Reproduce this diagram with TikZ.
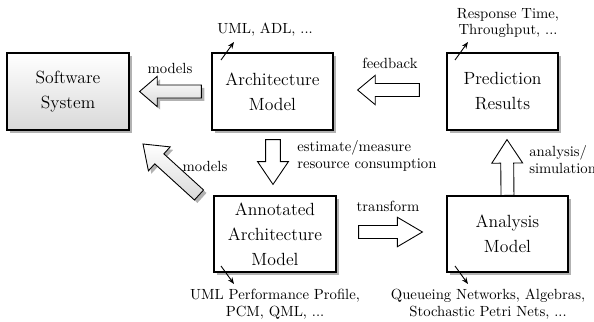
\documentclass[tikz,border=0pt]{standalone}
\usetikzlibrary{calc,shadows,arrows.meta}
\newcommand\fatarrow[6]{% #1 start, #2 end, #3 style, #4 shaft half width, #5 head half width, #6 head length
  \path (#1) coordinate (fa-s) (#2) coordinate (fa-e);
  \path ($(fa-e)!#6!(fa-s)$) coordinate (fa-h);
  \draw[#3] ($(fa-s)!#4!90:(fa-e)$) -- ($(fa-h)!#4!-90:(fa-s)$) -- ($(fa-h)!#5!-90:(fa-s)$)
    -- (fa-e) -- ($(fa-h)!#5!90:(fa-s)$) -- ($(fa-h)!#4!90:(fa-s)$) -- ($(fa-s)!#4!-90:(fa-e)$) -- cycle;
}
\tikzset{
  box/.style={draw, line width=0.8pt, fill=white, inner sep=0pt, align=center,
    font=\fontsize{12}{17}\selectfont,
    drop shadow={shadow xshift=2pt, shadow yshift=-2pt, fill=black, opacity=0.3}},
  lbl/.style={inner sep=0pt, font=\fontsize{10}{11.5}\selectfont},
  whitearrow/.style={draw, line width=0.6pt, fill=white, line join=miter},
  grayarrow/.style={draw, line width=0.6pt, top color=white, bottom color=gray!30, line join=miter,
    drop shadow={shadow xshift=2pt, shadow yshift=-2pt, fill=black, opacity=0.3}},
  pointer/.style={-{Stealth[length=4.5pt,width=3.5pt]}, line width=0.6pt},
}
\begin{document}
\begin{tikzpicture}[x=0.68pt, y=-0.68pt]
\useasboundingbox (0,0) rectangle (594,322);

% boxes
\node[box, top color=white, bottom color=gray!30, minimum width=122*0.68pt, minimum height=77*0.68pt]
  (soft) at (68,91.5) {Software\\System};
\node[box, minimum width=121*0.68pt, minimum height=77*0.68pt] (arch) at (272.5,91.5) {Architecture\\Model};
\node[box, minimum width=111*0.68pt, minimum height=77*0.68pt] (pred) at (502.5,91.5) {Prediction\\Results};
\node[box, minimum width=122*0.68pt, minimum height=76*0.68pt] (annot) at (275,234) {Annotated\\Architecture\\Model};
\node[box, minimum width=121*0.68pt, minimum height=76*0.68pt] (anal) at (507.5,234) {Analysis\\Model};

% labels
\node[lbl] (l-uml) at (265,30) {UML, ADL, ...};
\node[lbl, align=center] (l-resp) at (508,23) {Response Time,\\Throughput, ...};
\node[lbl] (l-models1) at (170,68) {models};
\node[lbl] (l-feedback) at (390,63) {feedback};
\node[lbl, align=left, anchor=west] (l-est) at (297,156) {estimate/measure\\resource consumption};
\node[lbl] (l-models2) at (205,166) {models};
\node[lbl, align=left, anchor=west] (l-anasim) at (529,160) {analysis/\\simulation};
\node[lbl] (l-transform) at (388,206) {transform};
\node[lbl, align=center] (l-umlperf) at (275,304) {UML Performance Profile,\\PCM, QML, ...};
\node[lbl, align=center] (l-queue) at (488,304) {Queueing Networks, Algebras,\\Stochastic Petri Nets, ...};

% block arrows
\coordinate (a1s) at ($(arch.west)+(-10,0)$);
\coordinate (a1e) at ($(soft.east)+(10,0)$);
\fatarrow{a1s}{a1e}{grayarrow}{4.4pt}{10.3pt}{12pt}
\coordinate (a2s) at ($(pred.west)+(-27,-1.5)$);
\coordinate (a2e) at ($(arch.east)+(24,-1.5)$);
\fatarrow{a2s}{a2e}{whitearrow}{4.4pt}{10pt}{12pt}
\coordinate (a3s) at ($(arch.south)+(0.5,9)$);
\coordinate (a3e) at ($(annot.north)+(-2,-11)$);
\fatarrow{a3s}{a3e}{whitearrow}{5pt}{10.5pt}{15.5pt}
\coordinate (a4s) at ($(anal.north)+(0,0)$);
\coordinate (a4e) at ($(pred.south)+(4.5,9)$);
\fatarrow{a4s}{a4e}{whitearrow}{4.4pt}{10.5pt}{16pt}
\coordinate (a5s) at ($(annot.east)+(22,-2)$);
\coordinate (a5e) at ($(anal.west)+(-24,-2)$);
\fatarrow{a5s}{a5e}{whitearrow}{4.4pt}{10pt}{17pt}
\coordinate (a6s) at (199,195);
\coordinate (a6e) at (143,144);
\fatarrow{a6s}{a6e}{grayarrow}{4.6pt}{11pt}{15pt}

% pointers
\coordinate (p1s) at (221,60); \coordinate (p1e) at (234,42);
\draw[pointer] (p1s) -- (p1e);
\coordinate (p2s) at (455,60); \coordinate (p2e) at (468,42);
\draw[pointer] (p2s) -- (p2e);
\coordinate (p3s) at (221,266); \coordinate (p3e) at (234,284);
\draw[pointer] (p3s) -- (p3e);
\coordinate (p4s) at (455,266); \coordinate (p4e) at (468,284);
\draw[pointer] (p4s) -- (p4e);
\end{tikzpicture}
\end{document}
